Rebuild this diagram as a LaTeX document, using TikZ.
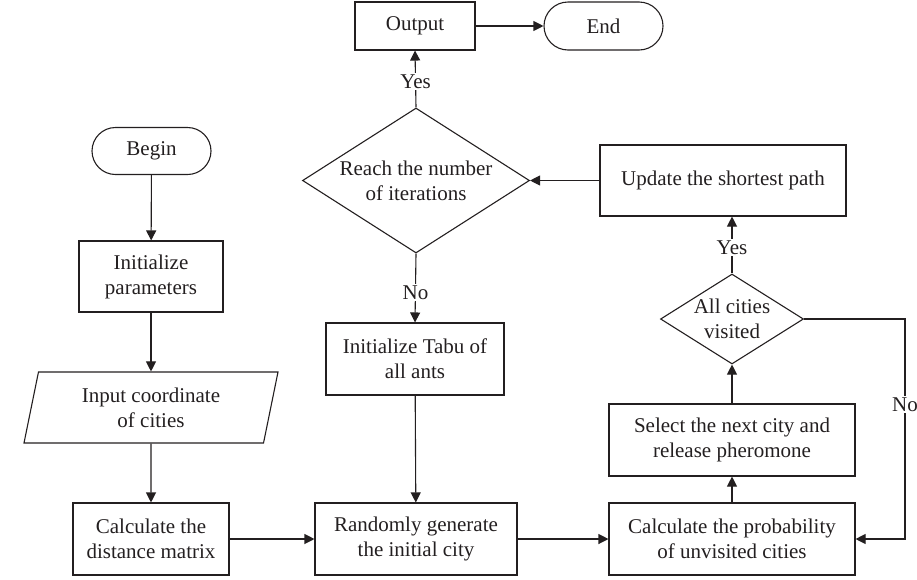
\documentclass[tikz,border=0pt]{standalone}
\usepackage{fontspec}
\setmainfont{Liberation Serif}
\usetikzlibrary{arrows.meta,shapes.geometric}
\definecolor{ink}{HTML}{231F20}
\begin{document}
\begin{tikzpicture}[x=1pt,y=-1pt,
  every node/.style={font=\fontsize{21}{25}\selectfont, text=ink},
  box/.style={draw=ink, line width=1.1pt, align=center, inner sep=0pt},
  term/.style={box, rounded corners=23.5pt, minimum width=119pt, minimum height=47pt},
  dec/.style={draw=ink, line width=1.1pt, diamond, inner sep=0pt},
  io/.style={box, trapezium, trapezium left angle=70, trapezium right angle=110,
    trapezium stretches body},
  arr/.style={draw=ink, line width=1.1pt, -{Triangle[length=10pt,width=10pt]}},
  lbl/.style={fill=white, inner sep=1.5pt},
]
\useasboundingbox (0,0) rectangle (917,579);

% left column
\node[term] (begin) at (151.5,151) {Begin};
\node[box, minimum width=144pt, minimum height=71pt] (init) at (151,276.5) {Initialize\\parameters};
\node[io, minimum width=254pt, minimum height=71pt] (input) at (151,407.5) {Input coordinate\\of cities};
\node[box, minimum width=156pt, minimum height=72pt] (calc) at (151,539) {Calculate the\\distance matrix};

% middle column
\node[box, minimum width=120pt, minimum height=48pt] (out) at (415,26) {Output};
\node[dec, minimum width=227pt, minimum height=145pt] (reach) at (416,180.5) {};
\node[align=center] (reachtxt) at (reach) {Reach the number\\of iterations};
\node[box, minimum width=178pt, minimum height=72pt] (tabu) at (415,359) {Initialize Tabu of\\all ants};
\node[box, minimum width=202pt, minimum height=72pt] (rand) at (416,539) {Randomly generate\\the initial city};

% right column
\node[term, minimum height=48pt, rounded corners=24pt] (end) at (603.5,26) {End};
\node[box, minimum width=246pt, minimum height=71pt] (upd) at (723,180.5) {Update the shortest path};
\node[dec, minimum width=143pt, minimum height=90pt] (allc) at (732,319) {};
\node[align=center] (allctxt) at (allc) {All cities\\visited};
\node[box, minimum width=246pt, minimum height=72pt] (sel) at (732,440) {Select the next city and\\release pheromone};
\node[box, minimum width=246pt, minimum height=72pt] (prob) at (732,539) {Calculate the probability\\of unvisited cities};
\coordinate (noc) at (905,319);

% connectors
\draw[arr] (begin) -- (init);
\draw[arr] (init) -- (input);
\draw[arr] (input) -- (calc);
\draw[arr] (calc) -- (rand);
\draw[arr] (rand) -- (prob);
\draw[arr] (prob) -- (sel);
\draw[arr] (sel) -- (allc);
\draw[arr] (allc.north) -- node[lbl, pos=0.45] (yes2) {Yes} (allc.north |- upd.south);
\draw[arr] (allc.east) -- (noc) -- node[lbl, pos=0.39] (no2) {No} (noc |- prob.east) -- (prob.east);
\draw[arr] (upd.west) -- (reach.east);
\draw[arr] (reach.north) -- node[lbl, pos=0.45] (yes1) {Yes} (out.south);
\draw[arr] (reach.south) -- node[lbl, pos=0.57] (no1) {No} (tabu.north);
\draw[arr] (tabu) -- (rand);
\draw[arr] (out) -- (end);
\end{tikzpicture}
\end{document}
